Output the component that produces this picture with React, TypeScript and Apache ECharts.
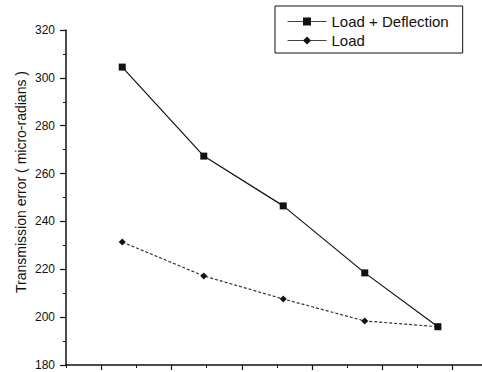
import React, { useEffect, useRef } from "react";
import * as echarts from "echarts";

// Sample positions along the (unlabelled) horizontal axis
const xPositions = [1.3, 2.46, 3.59, 4.75, 5.79];
// Transmission error, micro-radians
const loadDeflection = [304.5, 267.3, 246.5, 218.5, 196];
const loadOnly = [231.4, 217.2, 207.6, 198.4, 196];
const seriesNames = ["Load + Deflection", "Load"];
const xMajorTicks = [1, 2, 3, 4, 5, 6];
const xMinorTicks = [0.5, 1.5, 2.5, 3.5, 4.5, 5.5];
const yAxisTitle = "Transmission error ( micro-radians )";

const FONT = "'Liberation Sans', Arial, sans-serif";
const INK = "#111";

export default function App() {
  const ref = useRef<HTMLDivElement>(null);

  useEffect(() => {
    if (!ref.current) return;
    const chart = echarts.init(ref.current, undefined, { renderer: "svg" });
    const xMin = 0.5;
    const xMax = 0.5 + 416 / 70.3;
    chart.setOption({
      animation: false,
      backgroundColor: "#fff",
      textStyle: { fontFamily: FONT, color: INK },
      grid: { left: 66, top: 30, right: 0, height: 335, containLabel: false },
      legend: {
        left: 275,
        top: 6,
        orient: "vertical",
        padding: [8, 14, 5, 12],
        itemGap: 4,
        itemWidth: 39,
        itemHeight: 10,
        borderColor: INK,
        borderWidth: 1,
        borderRadius: 0,
        lineStyle: { type: "solid", width: 1, color: "#444" },
        textStyle: { fontFamily: FONT, fontSize: 15, color: INK },
        data: seriesNames,
      },
      graphic: [
        {
          type: "text",
          x: 21,
          y: 182,
          rotation: Math.PI / 2,
          style: {
            text: yAxisTitle,
            fontFamily: FONT,
            fontSize: 14,
            fill: INK,
            align: "center",
            verticalAlign: "middle",
          },
        },
      ],
      xAxis: [
        {
          type: "value",
          min: xMin,
          max: xMax,
          axisLine: { show: true, onZero: false, lineStyle: { color: INK, width: 1.5 } },
          axisTick: { show: true, length: 5, customValues: xMajorTicks, lineStyle: { color: INK, width: 1.2 } },
          axisLabel: { show: false },
          splitLine: { show: false },
        },
        {
          type: "value",
          min: xMin,
          max: xMax,
          position: "bottom",
          axisLine: { show: false },
          axisTick: { show: true, length: 3, customValues: xMinorTicks, lineStyle: { color: INK, width: 1 } },
          axisLabel: { show: false },
          splitLine: { show: false },
        },
      ],
      yAxis: {
        type: "value",
        min: 180,
        max: 320,
        interval: 20,
        axisLine: { show: true, onZero: false, lineStyle: { color: INK, width: 1.5 } },
        axisTick: { show: true, length: 6, lineStyle: { color: INK, width: 1.2 } },
        minorTick: { show: true, splitNumber: 2, length: 3, lineStyle: { color: INK, width: 1 } },
        axisLabel: { margin: 11, fontSize: 12, color: INK, fontFamily: FONT },
        splitLine: { show: false },
      },
      series: [
        {
          name: seriesNames[0],
          type: "line",
          xAxisIndex: 0,
          data: xPositions.map((x, i) => [x, loadDeflection[i]]),
          symbol: "rect",
          symbolSize: 7,
          z: 3,
          itemStyle: { color: INK },
          lineStyle: { color: INK, width: 1.2, type: "solid" },
        },
        {
          name: seriesNames[1],
          type: "line",
          xAxisIndex: 0,
          data: xPositions.map((x, i) => [x, loadOnly[i]]),
          symbol: "diamond",
          symbolSize: 7,
          z: 2,
          itemStyle: { color: INK },
          lineStyle: { color: "#333", width: 1.2, type: [3, 2] },
        },
      ],
    });
    return () => chart.dispose();
  }, []);

  return (
    <div
      ref={ref}
      style={{ position: "fixed", left: 0, top: 0, width: 482, height: 372, background: "#fff" }}
    />
  );
}
